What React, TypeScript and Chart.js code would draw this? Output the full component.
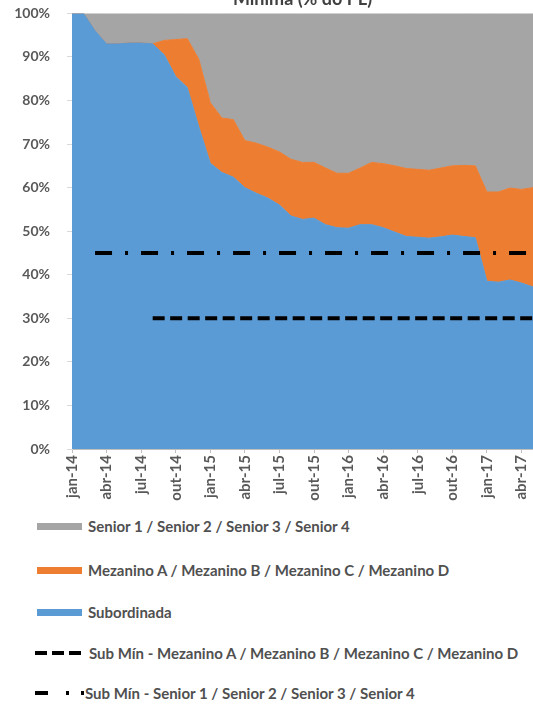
import React, { useEffect, useRef } from 'react';
import { Chart, registerables } from 'chart.js';

Chart.register(...registerables);

const months = [
  'jan-14', 'fev-14', 'mar-14', 'abr-14', 'mai-14', 'jun-14', 'jul-14', 'ago-14', 'set-14', 'out-14', 'nov-14', 'dez-14',
  'jan-15', 'fev-15', 'mar-15', 'abr-15', 'mai-15', 'jun-15', 'jul-15', 'ago-15', 'set-15', 'out-15', 'nov-15', 'dez-15',
  'jan-16', 'fev-16', 'mar-16', 'abr-16', 'mai-16', 'jun-16', 'jul-16', 'ago-16', 'set-16', 'out-16', 'nov-16', 'dez-16',
  'jan-17', 'fev-17', 'mar-17', 'abr-17', 'mai-17',
];

const subordinada = [
  100, 100, 96, 93, 93, 93.2, 93.2, 93, 90.5, 85.5, 83, 74,
  65.6, 63.5, 62.4, 60, 58.7, 57.6, 56, 53.5, 52.7, 53, 51.5, 50.8,
  50.7, 51.5, 51.5, 50.8, 49.8, 48.8, 48.6, 48.4, 48.7, 49.1, 48.8, 48.5,
  38.5, 38.3, 38.8, 38.1, 37.2,
];

const mezanino = [
  0, 0, 0, 0, 0, 0, 0, 0, 3.3, 8.5, 11.2, 15.5,
  13.9, 12.5, 13.2, 10.8, 11.5, 11.7, 12.2, 13, 13.1, 12.8, 13, 12.5,
  12.6, 13, 14.3, 14.7, 15.2, 15.6, 15.6, 15.6, 15.8, 15.9, 16.3, 16.5,
  20.5, 20.7, 21.1, 21.5, 22.8,
];

const senior = [
  0, 0, 4, 7, 7, 6.8, 6.8, 7, 6.2, 6, 5.8, 10.5,
  20.5, 24, 24.4, 29.2, 29.8, 30.7, 31.8, 33.5, 34.2, 34.2, 35.5, 36.7,
  36.7, 35.5, 34.2, 34.5, 35, 35.6, 35.8, 36, 35.5, 35, 34.9, 35,
  41, 41, 40.1, 40.4, 40,
];

const subMinSeniorLevel = 45;
const subMinSeniorStart = 'mar-14';
const subMinMezLevel = 30;
const subMinMezStart = 'ago-14';

const titleText = 'Mínima (% do PL)';

const seriesNames = {
  senior: 'Senior 1 / Senior 2 / Senior 3 / Senior 4',
  mezanino: 'Mezanino A / Mezanino B / Mezanino C / Mezanino D',
  subordinada: 'Subordinada',
  subMinMez: 'Sub Mín - Mezanino A / Mezanino B / Mezanino C / Mezanino D',
  subMinSenior: 'Sub Mín - Senior 1 / Senior 2 / Senior 3 / Senior 4',
};

const BLUE = '#5B9BD5';
const ORANGE = '#ED7D31';
const GRAY = '#A5A5A5';
const TEXT = '#595959';

export default function App() {
  const ref = useRef<HTMLCanvasElement>(null);

  useEffect(() => {
    const sIdx = months.indexOf(subMinSeniorStart);
    const mIdx = months.indexOf(subMinMezStart);
    const lineSenior = months.map((_, i) => (i >= sIdx ? subMinSeniorLevel : null));
    const lineMez = months.map((_, i) => (i >= mIdx ? subMinMezLevel : null));

    const chart = new Chart(ref.current as HTMLCanvasElement, {
      type: 'line',
      data: {
        labels: months,
        datasets: [
          {
            label: seriesNames.subMinSenior,
            data: lineSenior,
            stack: 'l1',
            borderColor: '#000',
            borderWidth: 4,
            borderDash: [17, 13, 3, 13],
            pointRadius: 0,
            fill: false,
          },
          {
            label: seriesNames.subMinMez,
            data: lineMez,
            stack: 'l2',
            borderColor: '#000',
            borderWidth: 4,
            borderDash: [12, 5.5],
            pointRadius: 0,
            fill: false,
          },
          {
            label: seriesNames.subordinada,
            data: subordinada,
            stack: 'a',
            borderColor: BLUE,
            backgroundColor: BLUE,
            borderWidth: 1,
            pointRadius: 0,
            fill: 'origin',
          },
          {
            label: seriesNames.mezanino,
            data: mezanino,
            stack: 'a',
            borderColor: ORANGE,
            backgroundColor: ORANGE,
            borderWidth: 1,
            pointRadius: 0,
            fill: '-1',
          },
          {
            label: seriesNames.senior,
            data: senior,
            stack: 'a',
            borderColor: GRAY,
            backgroundColor: GRAY,
            borderWidth: 1,
            pointRadius: 0,
            fill: '-1',
          },
        ],
      },
      options: {
        responsive: false,
        animation: false,
        layout: { padding: { top: 0, right: 0, bottom: 0, left: 0 } },
        plugins: {
          legend: { display: false },
          tooltip: { enabled: false },
          title: {
            display: true,
            text: titleText,
            fullSize: false,
            color: '#404040',
            font: { family: 'Lato', size: 18, weight: 'bold' },
            padding: { top: 0, bottom: 3.4 },
          },
        },
        scales: {
          x: {
            type: 'category',
            offset: false,
            afterFit: (s: any) => {
              s.height = 59;
              s.paddingRight = 0;
              s.paddingLeft = 0;
            },
            grid: {
              drawOnChartArea: false,
              drawTicks: true,
              tickLength: 4,
              color: (ctx: any) => (ctx.index % 3 === 0 ? '#BFBFBF' : 'rgba(0,0,0,0)'),
            },
            border: { display: true, color: '#BFBFBF' },
            ticks: {
              autoSkip: false,
              minRotation: 90,
              maxRotation: 90,
              padding: 2,
              color: TEXT,
              font: { family: 'Lato', size: 15, weight: 'bold' },
              callback: (_v: any, i: number) => (i % 3 === 0 ? months[i] : ''),
            },
          },
          y: {
            stacked: true,
            min: 0,
            max: 100,
            afterFit: (s: any) => {
              s.width = 72;
            },
            grid: {
              drawOnChartArea: false,
              drawTicks: true,
              tickLength: 5,
              color: '#D9D9D9',
            },
            border: { display: true, color: '#D9D9D9' },
            ticks: {
              stepSize: 10,
              padding: 17,
              color: TEXT,
              font: { family: 'Lato', size: 14, weight: 'bold' },
              callback: (v: any) => `${v}%`,
            },
          },
        },
      },
    });
    return () => chart.destroy();
  }, []);

  const legendFont: React.CSSProperties = {
    position: 'absolute',
    fontFamily: 'Lato',
    fontWeight: 'bold',
    fontSize: 15,
    color: '#505050',
    whiteSpace: 'nowrap',
    lineHeight: '18px',
  };

  const rectRow = (color: string, text: string, cy: number) => (
    <React.Fragment key={text}>
      <div style={{ position: 'absolute', left: 37, top: cy - 3, width: 45, height: 7, background: color }} />
      <div style={{ ...legendFont, left: 88, top: cy - 9 }}>{text}</div>
    </React.Fragment>
  );

  return (
    <div
      style={{
        position: 'fixed',
        left: 0,
        top: 0,
        width: 533,
        height: 709,
        overflow: 'hidden',
        background: '#fff',
      }}
    >
      <canvas
        ref={ref}
        width={533}
        height={520}
        style={{ position: 'absolute', left: 0, top: -12, width: 533, height: 520 }}
      />
      {rectRow(GRAY, seriesNames.senior, 526)}
      {rectRow(ORANGE, seriesNames.mezanino, 570)}
      {rectRow(BLUE, seriesNames.subordinada, 612)}
      <svg style={{ position: 'absolute', left: 35, top: 649 }} width={50} height={8}>
        <line x1={0} y1={4} x2={47} y2={4} stroke="#000" strokeWidth={4} strokeDasharray="12 5" />
      </svg>
      <div style={{ ...legendFont, left: 89, top: 653 - 9 }}>{seriesNames.subMinMez}</div>
      <svg style={{ position: 'absolute', left: 35, top: 689 }} width={50} height={8}>
        <line x1={0} y1={4} x2={50} y2={4} stroke="#000" strokeWidth={4} strokeDasharray="13 18 3 12 3 100" />
      </svg>
      <div style={{ ...legendFont, left: 85, top: 693 - 9 }}>{seriesNames.subMinSenior}</div>
    </div>
  );
}
